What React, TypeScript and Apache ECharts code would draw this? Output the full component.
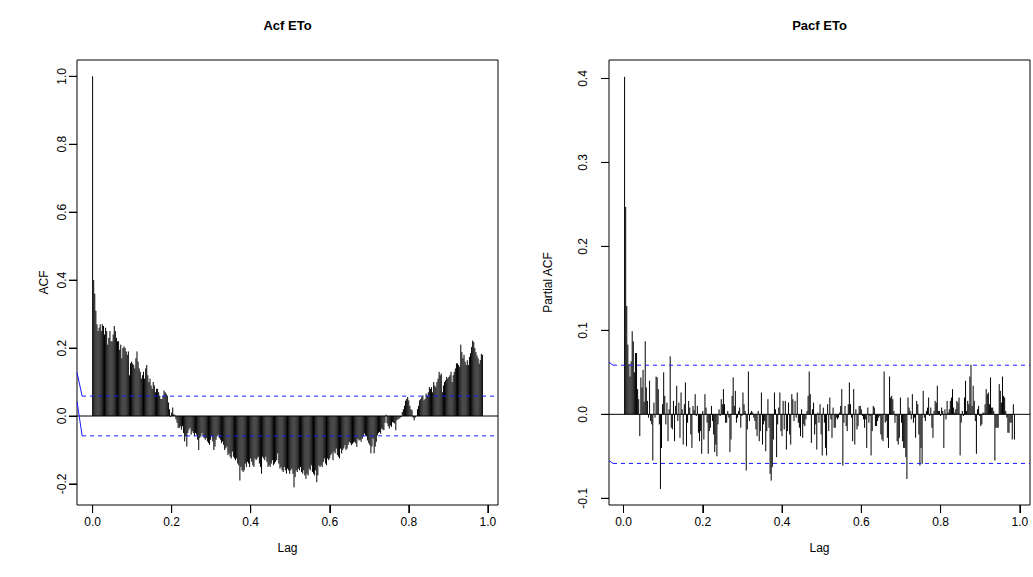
import React, { useEffect, useRef } from "react";
import * as echarts from "echarts";

const FREQ = 365;
const titles = ["Acf ETo", "Pacf ETo"];
const yNames = ["ACF", "Partial ACF"];
const xName = "Lag";
const xTicks = [0, 0.2, 0.4, 0.6, 0.8, 1.0];
const acfYTicks = [-0.2, 0, 0.2, 0.4, 0.6, 0.8, 1.0];
const pacfYTicks = [-0.1, 0, 0.1, 0.2, 0.3, 0.4];
const ciBound = 0.0585;

// ACF, lags 0..360
const acfValues = [
  1.0, 0.40, 0.36, 0.31, 0.27, 0.25, 0.26, 0.27, 0.25, 0.27,
  0.265, 0.24, 0.26, 0.25, 0.21, 0.23, 0.25, 0.22, 0.22, 0.24,
  0.265, 0.25, 0.23, 0.22, 0.22, 0.195, 0.21, 0.17, 0.20, 0.205,
  0.20, 0.19, 0.18, 0.19, 0.12, 0.155, 0.16, 0.155, 0.15, 0.14,
  0.17, 0.19, 0.16, 0.14, 0.13, 0.11, 0.12, 0.13, 0.11, 0.14,
  0.15, 0.12, 0.10, 0.11, 0.09, 0.08, 0.10, 0.09, 0.07, 0.08,
  0.08, 0.07, 0.06, 0.05, 0.05, 0.06, 0.075, 0.07, 0.065, 0.06,
  0.04, 0.02, -0.003, 0.01, 0.025, 0.005, 0.003, -0.01, -0.02, -0.035,
  -0.035, -0.03, -0.04, -0.03, -0.05, -0.075, -0.06, -0.09, -0.05, -0.04,
  -0.035, -0.055, -0.045, -0.05, -0.06, -0.05, -0.055, -0.07, -0.1, -0.065,
  -0.06, -0.05, -0.06, -0.065, -0.07, -0.065, -0.075, -0.08, -0.085, -0.07,
  -0.06, -0.075, -0.1, -0.09, -0.07, -0.06, -0.055, -0.065, -0.07, -0.08,
  -0.075, -0.085, -0.1, -0.095, -0.09, -0.115, -0.11, -0.12, -0.125, -0.105,
  -0.12, -0.125, -0.13, -0.125, -0.14, -0.145, -0.19, -0.15, -0.16, -0.165,
  -0.16, -0.14, -0.15, -0.135, -0.14, -0.15, -0.125, -0.135, -0.145, -0.15,
  -0.125, -0.13, -0.125, -0.12, -0.14, -0.15, -0.17, -0.12, -0.125, -0.13,
  -0.12, -0.135, -0.15, -0.145, -0.15, -0.14, -0.13, -0.145, -0.14, -0.135,
  -0.13, -0.11, -0.14, -0.155, -0.15, -0.16, -0.165, -0.15, -0.16, -0.17,
  -0.155, -0.16, -0.17, -0.16, -0.155, -0.17, -0.21, -0.18, -0.16, -0.165,
  -0.155, -0.16, -0.15, -0.165, -0.17, -0.16, -0.175, -0.185, -0.17, -0.175,
  -0.155, -0.16, -0.145, -0.165, -0.17, -0.175, -0.16, -0.195, -0.175, -0.145,
  -0.15, -0.145, -0.15, -0.135, -0.125, -0.14, -0.145, -0.125, -0.13, -0.125,
  -0.115, -0.11, -0.13, -0.105, -0.11, -0.096, -0.115, -0.12, -0.125, -0.096,
  -0.11, -0.1, -0.095, -0.086, -0.1, -0.096, -0.085, -0.076, -0.08, -0.086,
  -0.082, -0.078, -0.076, -0.08, -0.091, -0.067, -0.072, -0.07, -0.076, -0.067,
  -0.06, -0.052, -0.057, -0.06, -0.072, -0.08, -0.086, -0.11, -0.09, -0.067,
  -0.11, -0.09, -0.076, -0.057, -0.05, -0.047, -0.052, -0.037, -0.04, -0.042,
  -0.02, 0.004, -0.022, -0.03, -0.037, -0.028, -0.032, -0.018, -0.02, -0.022,
  -0.042, -0.013, -0.01, -0.008, -0.005, -0.003, 0.012, 0.02, 0.03, 0.045,
  0.05, 0.056, 0.046, 0.03, 0.02, 0.017, -0.005, -0.013, -0.004, 0.0,
  0.02, 0.03, 0.046, 0.05, 0.056, 0.061, 0.046, 0.05, 0.066, 0.06,
  0.07, 0.085, 0.08, 0.085, 0.07, 0.1, 0.09, 0.085, 0.1, 0.11,
  0.13, 0.12, 0.125, 0.07, 0.09, 0.1, 0.105, 0.115, 0.11, 0.115,
  0.12, 0.13, 0.1, 0.12, 0.13, 0.14, 0.155, 0.155, 0.15, 0.145,
  0.21, 0.188, 0.17, 0.18, 0.16, 0.15, 0.164, 0.15, 0.174, 0.185,
  0.203, 0.222, 0.218, 0.2, 0.188, 0.178, 0.17, 0.154, 0.165, 0.183, 0.18,
];

// PACF, lags 1..360
const pacfValues = [
  0.402, 0.247, 0.129, 0.083, 0.06, 0.045, 0.063, 0.099, 0.087, 0.05,
  0.073, 0.073, 0.03, 0.018, -0.026, 0.044, 0.032, 0.053, 0.015, 0.087,
  0.032, 0.016, -0.004, 0.04, -0.008, -0.012, -0.055, 0.014, -0.004, 0.045,
  0.044, 0.03, -0.012, -0.089, -0.04, 0.012, 0.05, 0.022, -0.012, 0.014,
  -0.032, 0.006, 0.069, -0.016, -0.018, 0.016, -0.032, 0.01, 0.034, -0.008,
  0.014, -0.028, 0.026, 0.006, -0.036, 0.012, 0.038, -0.038, -0.01, 0.016,
  0.008, -0.024, -0.04, 0.01, 0.005, 0.024, -0.002, 0.01, -0.022, -0.032,
  -0.02, -0.047, 0.004, -0.03, 0.024, 0.008, -0.01, -0.047, -0.02, -0.016,
  0.01, -0.008, -0.024, -0.045, -0.036, -0.05, -0.012, 0.006, -0.002, 0.018,
  0.012, 0.03, 0.012, -0.01, -0.01, 0.004, -0.004, -0.045, -0.03, 0.022,
  0.044, 0.01, 0.028, -0.01, -0.004, 0.004, 0.008, -0.016, -0.002, 0.026,
  0.012, 0.004, -0.067, -0.018, 0.051, -0.008, 0.002, 0.004, 0.002, -0.004,
  -0.008, -0.018, -0.026, 0.004, -0.032, -0.02, 0.026, -0.036, -0.012, -0.008,
  -0.044, -0.02, 0.018, -0.016, -0.071, -0.079, -0.063, -0.03, 0.026, 0.006,
  -0.051, -0.012, 0.008, 0.026, -0.02, -0.026, 0.016, -0.018, 0.016, -0.042,
  -0.02, 0.014, -0.024, -0.036, 0.024, 0.018, -0.008, 0.016, -0.004, 0.026,
  -0.01, -0.016, -0.026, 0.006, -0.028, -0.012, -0.014, -0.006, 0.004, 0.022,
  0.051, 0.024, -0.034, 0.006, 0.014, -0.024, -0.012, -0.042, 0.002, -0.01,
  0.012, -0.024, -0.049, 0.008, -0.01, -0.04, -0.049, 0.012, -0.02, 0.02,
  -0.006, -0.028, 0.008, -0.016, -0.016, -0.004, -0.006, -0.004, 0.002, 0.01,
  0.03, -0.061, -0.01, 0.01, -0.014, -0.02, 0.012, 0.038, 0.012, -0.004,
  -0.032, 0.03, -0.036, 0.006, -0.018, -0.014, 0.01, 0.01, 0.006, -0.002,
  -0.006, -0.016, -0.006, -0.04, 0.008, -0.01, -0.002, -0.049, -0.02, 0.01,
  0.008, -0.014, -0.014, -0.008, -0.004, -0.002, -0.024, -0.03, -0.032, 0.051,
  -0.01, -0.008, -0.028, -0.04, 0.045, 0.02, 0.022, 0.018, 0.004, -0.01,
  -0.002, -0.032, -0.036, -0.028, 0.02, -0.01, -0.032, -0.04, -0.04, -0.051,
  -0.077, 0.02, 0.008, 0.004, -0.006, 0.024, -0.01, -0.004, -0.028, 0.016,
  0.012, -0.024, -0.061, -0.04, -0.059, 0.028, -0.004, -0.008, 0.004, 0.008,
  0.02, -0.002, 0.008, -0.016, -0.028, 0.004, 0.016, 0.014, 0.034, 0.004,
  0.004, -0.002, 0.008, 0.004, -0.04, 0.006, -0.006, 0.016, 0.002, 0.006,
  0.016, 0.02, 0.03, 0.008, 0.002, 0.006, 0.016, 0.014, 0.02, -0.049,
  -0.01, 0.004, -0.002, 0.02, 0.04, 0.004, 0.016, 0.012, 0.045, 0.059,
  0.01, 0.034, 0.016, -0.008, -0.047, 0.006, 0.01, -0.002, -0.014, -0.012,
  0.002, 0.002, 0.012, 0.03, 0.024, 0.026, 0.012, 0.044, 0.008, 0.008,
  0.004, -0.055, -0.016, -0.016, -0.016, 0.036, 0.028, 0.014, 0.045, 0.022,
  0.02, 0.004, -0.004, -0.022, -0.022, -0.01, -0.01, -0.03, 0.012, -0.03,
];

const FONT = "'Liberation Sans', Arial, Helvetica, sans-serif";
const TICK_LEN = 8;

export default function App() {
  const ref = useRef<HTMLDivElement>(null);

  useEffect(() => {
    if (!ref.current) return;
    const chart = echarts.init(ref.current, null, { renderer: "svg" });

    const acfData = acfValues.map((v, i) => [i / FREQ, v]);
    const pacfData = pacfValues.map((v, i) => [(i + 1) / FREQ, v]);

    const xRanges = [
      [-0.0395, 1.0257],
      [-0.0366, 1.0256],
    ];
    const yRanges = [
      [-0.262, 1.048],
      [-0.108, 0.422],
    ];
    const gridLefts = [77, 609];
    const yLabelMargins = [9, 20];
    const yTickSets = [acfYTicks, pacfYTicks];

    const grids = gridLefts.map((l) => ({
      left: l,
      top: 60,
      width: 421,
      height: 445,
      show: true,
      borderColor: "#000",
      borderWidth: 1,
      containLabel: false,
    }));

    const xAxes = [0, 1].map((i) => ({
      type: "value",
      gridIndex: i,
      position: "bottom",
      min: xRanges[i][0],
      max: xRanges[i][1],
      axisLine: { show: false, onZero: false },
      splitLine: { show: false },
      axisTick: { show: true, inside: false, customValues: xTicks, length: TICK_LEN, lineStyle: { color: "#000", width: 1 } },
      axisLabel: {
        customValues: xTicks,
        formatter: (v: number) => v.toFixed(1),
        color: "#000",
        fontFamily: FONT,
        fontSize: 12,
        margin: 11,
      },
    }));

    const yAxes = [0, 1].map((i) => ({
      type: "value",
      gridIndex: i,
      position: "left",
      min: yRanges[i][0],
      max: yRanges[i][1],
      axisLine: { show: false, onZero: false },
      splitLine: { show: false },
      axisTick: { show: true, inside: false, customValues: yTickSets[i], length: TICK_LEN, lineStyle: { color: "#000", width: 1 } },
      axisLabel: {
        customValues: yTickSets[i],
        formatter: (v: number) => v.toFixed(1),
        color: "#000",
        fontFamily: FONT,
        fontSize: 12,
        rotate: 90,
        margin: yLabelMargins[i],
      },
    }));

    const stems = (data: number[][], idx: number) => ({
      type: "custom",
      xAxisIndex: idx,
      yAxisIndex: idx,
      data,
      encode: { x: 0, y: 1 },
      silent: true,
      renderItem: (_p: any, api: any) => {
        const p0 = api.coord([api.value(0), 0]);
        const p1 = api.coord([api.value(0), api.value(1)]);
        return {
          type: "line",
          shape: { x1: p0[0], y1: p0[1], x2: p1[0], y2: p1[1] },
          style: { stroke: "#000", lineWidth: 1 },
        };
      },
    });

    // reference lines: zero line, bound lines, and the short leading slants seen in the reference
    const slants = [
      { x0: -0.0395, x1: -0.0265, up: 0.128, lo: 0.043 },
      { x0: -0.0366, x1: -0.0265, up: 0.062, lo: -0.055 },
    ];
    const refLineSeries = (idx: number) => {
      const s = slants[idx];
      const xmin = xRanges[idx][0];
      const xmax = xRanges[idx][1];
      const lines = [
        { d: [xmin, 0, xmax, 0], color: "#000000", dash: null },
        { d: [s.x1, ciBound, xmax, ciBound], color: "#1a1aff", dash: [4, 4] },
        { d: [s.x1, -ciBound, xmax, -ciBound], color: "#1a1aff", dash: [4, 4] },
        { d: [s.x0, s.up, s.x1, ciBound], color: "#1a1aff", dash: null },
        { d: [s.x0, s.lo, s.x1, -ciBound], color: "#1a1aff", dash: null },
      ];
      return {
        type: "custom",
        xAxisIndex: idx,
        yAxisIndex: idx,
        data: lines.map((l) => l.d),
        encode: { x: [0, 2], y: [1, 3] },
        silent: true,
        z: 3,
        renderItem: (params: any, api: any) => {
          const l = lines[params.dataIndex];
          const p0 = api.coord([api.value(0), api.value(1)]);
          const p1 = api.coord([api.value(2), api.value(3)]);
          const style: any = { stroke: l.color, lineWidth: 1, fill: "none" };
          if (l.dash) style.lineDash = l.dash;
          return {
            type: "line",
            shape: { x1: p0[0], y1: p0[1], x2: p1[0], y2: p1[1] },
            style,
          };
        },
      };
    };

    const series: any[] = [];
    [acfData, pacfData].forEach((d, i) => {
      series.push(stems(d, i));
      series.push(refLineSeries(i));
    });

    const centers = gridLefts.map((l) => l + 421 / 2);
    const yNameX = [44, 548];
    const graphic: any[] = [];
    [0, 1].forEach((i) => {
      graphic.push({
        type: "text",
        x: centers[i],
        y: 25,
        style: { text: titles[i], font: `bold 13px ${FONT}`, fill: "#000", textAlign: "center", textVerticalAlign: "middle" },
      });
      graphic.push({
        type: "text",
        x: centers[i],
        y: 548,
        style: { text: xName, font: `12px ${FONT}`, fill: "#000", textAlign: "center", textVerticalAlign: "middle" },
      });
      graphic.push({
        type: "text",
        x: yNameX[i],
        y: 282.5,
        rotation: Math.PI / 2,
        style: { text: yNames[i], font: `12px ${FONT}`, fill: "#000", textAlign: "center", textVerticalAlign: "middle" },
      });
    });

    chart.setOption({
      animation: false,
      backgroundColor: "#fff",
      grid: grids,
      xAxis: xAxes,
      yAxis: yAxes,
      series,
      graphic,
    } as any);

    // outward axis ticks, placed through the axes' own scales
    const tickGraphics: any[] = [];
    [0, 1].forEach((i) => {
      xTicks.forEach((v) => {
        const p = chart.convertToPixel({ gridIndex: i } as any, [v, yRanges[i][0]]) as number[];
        if (!p) return;
        tickGraphics.push({
          type: "line",
          silent: true,
          z: 50,
          shape: { x1: p[0], y1: p[1], x2: p[0], y2: p[1] + TICK_LEN },
          style: { stroke: "#000", lineWidth: 1 },
        });
      });
      yTickSets[i].forEach((v) => {
        const p = chart.convertToPixel({ gridIndex: i } as any, [xRanges[i][0], v]) as number[];
        if (!p) return;
        tickGraphics.push({
          type: "line",
          silent: true,
          z: 50,
          shape: { x1: p[0], y1: p[1], x2: p[0] - TICK_LEN, y2: p[1] },
          style: { stroke: "#000", lineWidth: 1 },
        });
      });
    });
    chart.setOption({ graphic: [...graphic, ...tickGraphics] } as any);

    return () => chart.dispose();
  }, []);

  return (
    <div
      ref={ref}
      style={{ position: "fixed", left: 0, top: 0, width: 1033, height: 577 }}
    />
  );
}
